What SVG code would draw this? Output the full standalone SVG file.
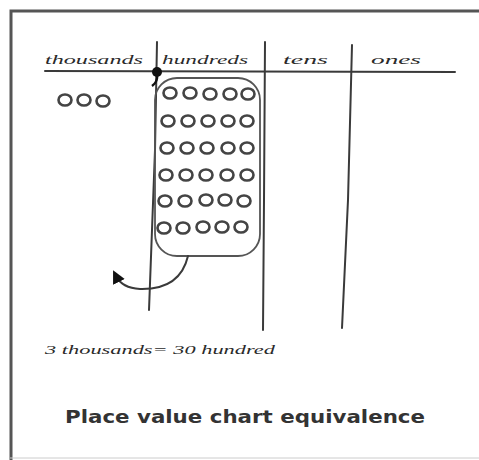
<svg xmlns="http://www.w3.org/2000/svg" width="479" height="460" viewBox="0 0 479 460">
<style>
.ln{stroke:#3a3a3a;stroke-width:2;fill:none;stroke-linecap:round}
.c{stroke:#444;stroke-width:2.6;fill:#fff}
.hw{font-family:"Liberation Serif",serif;font-style:italic;font-size:13px;fill:#2a2a2a}
.title{font-family:"DejaVu Sans",sans-serif;font-weight:bold;font-size:17px;fill:#333}
</style>
<defs>
<marker id="ah" viewBox="0 0 10 10" refX="5" refY="5" markerWidth="13" markerHeight="13" markerUnits="userSpaceOnUse" orient="auto">
<path d="M0,0 L10,5 L0,10 z" fill="#111"/>
</marker>
</defs>
<rect width="479" height="460" fill="#fff"/>
<path d="M11,460 L11,11 L479,11" fill="none" stroke="#555" stroke-width="3"/>
<line x1="10" y1="458" x2="479" y2="458" stroke="#ccc" stroke-width="1"/>
<g id="chart">
<line class="ln" x1="45" y1="71" x2="455" y2="72"/>
<path class="ln" d="M157,42 L155,150 L149,310"/>
<path class="ln" d="M265,42 L264,200 L263,330"/>
<path class="ln" d="M352,45 L348,200 L342,328"/>
<circle cx="157" cy="72" r="5" fill="#111"/>
<path d="M157,74 Q158,82 152,86" stroke="#111" stroke-width="2.5" fill="none"/>
</g>
<g id="headers">
<text class="hw" x="45" y="64" textLength="98" lengthAdjust="spacingAndGlyphs">thousands</text>
<text class="hw" x="162" y="64" textLength="86" lengthAdjust="spacingAndGlyphs">hundreds</text>
<text class="hw" x="283" y="64" textLength="45" lengthAdjust="spacingAndGlyphs">tens</text>
<text class="hw" x="371" y="64" textLength="50" lengthAdjust="spacingAndGlyphs">ones</text>
</g>
<g id="thousands-dots">
<ellipse class="c" cx="65" cy="100" rx="6.5" ry="5.5"/>
<ellipse class="c" cx="84" cy="100" rx="6.5" ry="5.5"/>
<ellipse class="c" cx="103" cy="101" rx="6.5" ry="5.5"/>
</g>
<g id="hundreds-group">
<rect x="155" y="78" width="105" height="178" rx="22" fill="none" stroke="#555" stroke-width="1.8"/>
<g>
<ellipse class="c" cx="170" cy="93" rx="6.5" ry="5.5"/><ellipse class="c" cx="190" cy="93" rx="6.5" ry="5.5"/><ellipse class="c" cx="210" cy="94" rx="6.5" ry="5.5"/><ellipse class="c" cx="230" cy="94" rx="6.5" ry="5.5"/><ellipse class="c" cx="248" cy="94" rx="6.5" ry="5.5"/>
<ellipse class="c" cx="168" cy="121" rx="6.5" ry="5.5"/><ellipse class="c" cx="188" cy="121" rx="6.5" ry="5.5"/><ellipse class="c" cx="208" cy="121" rx="6.5" ry="5.5"/><ellipse class="c" cx="228" cy="121" rx="6.5" ry="5.5"/><ellipse class="c" cx="247" cy="121" rx="6.5" ry="5.5"/>
<ellipse class="c" cx="167" cy="148" rx="6.5" ry="5.5"/><ellipse class="c" cx="187" cy="148" rx="6.5" ry="5.5"/><ellipse class="c" cx="207" cy="148" rx="6.5" ry="5.5"/><ellipse class="c" cx="228" cy="148" rx="6.5" ry="5.5"/><ellipse class="c" cx="247" cy="148" rx="6.5" ry="5.5"/>
<ellipse class="c" cx="166" cy="175" rx="6.5" ry="5.5"/><ellipse class="c" cx="186" cy="175" rx="6.5" ry="5.5"/><ellipse class="c" cx="206" cy="175" rx="6.5" ry="5.5"/><ellipse class="c" cx="227" cy="175" rx="6.5" ry="5.5"/><ellipse class="c" cx="247" cy="175" rx="6.5" ry="5.5"/>
<ellipse class="c" cx="165" cy="201" rx="6.5" ry="5.5"/><ellipse class="c" cx="185" cy="201" rx="6.5" ry="5.5"/><ellipse class="c" cx="206" cy="200" rx="6.5" ry="5.5"/><ellipse class="c" cx="225" cy="200" rx="6.5" ry="5.5"/><ellipse class="c" cx="244" cy="201" rx="6.5" ry="5.5"/>
<ellipse class="c" cx="164" cy="228" rx="6.5" ry="5.5"/><ellipse class="c" cx="183" cy="228" rx="6.5" ry="5.5"/><ellipse class="c" cx="203" cy="227" rx="6.5" ry="5.5"/><ellipse class="c" cx="222" cy="227" rx="6.5" ry="5.5"/><ellipse class="c" cx="241" cy="227" rx="6.5" ry="5.5"/>
</g>
</g>
<g id="connectors">
<path class="ln" d="M188,256 Q180,290 140,289 Q122,288 116,276" marker-end="url(#ah)"/>
</g>
<g id="labels">
<text class="hw" x="45" y="354" textLength="230" lengthAdjust="spacingAndGlyphs">3 thousands= 30 hundred</text>
<text class="title" x="65" y="423" textLength="360" lengthAdjust="spacingAndGlyphs">Place value chart equivalence</text>
</g>
</svg>
